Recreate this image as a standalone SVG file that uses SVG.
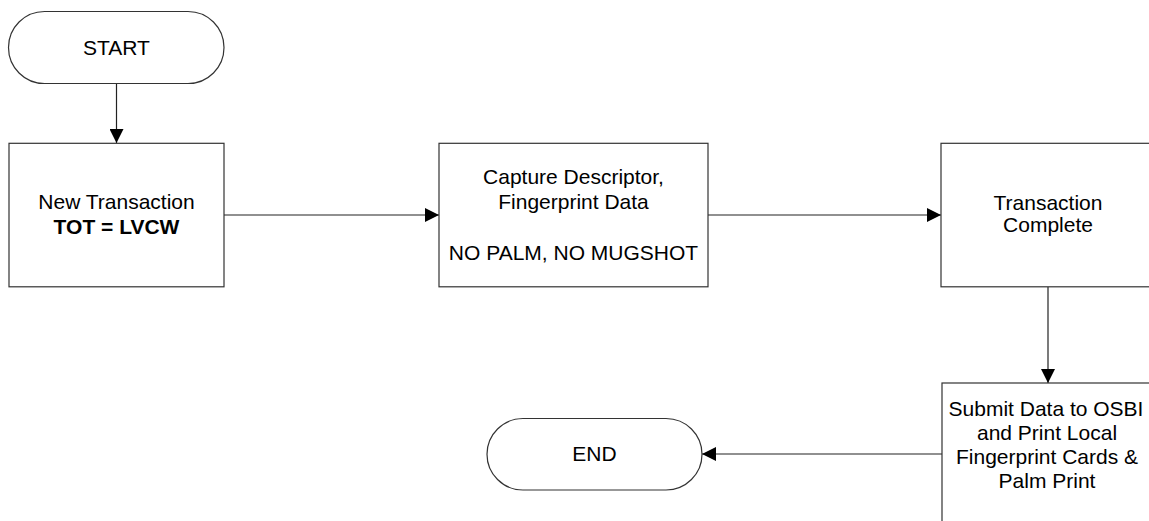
<svg xmlns="http://www.w3.org/2000/svg" width="1149" height="521" viewBox="0 0 1149 521">
<style>
.shape{fill:#fff;stroke:#333;stroke-width:1.2}
.conn{fill:none;stroke:#222;stroke-width:1.2}
text{font-family:"Liberation Sans",Arial,sans-serif;font-size:21px;fill:#000;text-anchor:middle}
.b{font-weight:bold}
</style>
<defs>
<marker id="arr" viewBox="0 0 14 14" refX="14" refY="7" markerWidth="14" markerHeight="14" markerUnits="userSpaceOnUse" orient="auto">
<path d="M0,0 L14,7 L0,14 Z" fill="#000"/>
</marker>
</defs>
<rect width="1149" height="521" fill="#fff"/>
<g id="connectors">
<line class="conn" x1="116.5" y1="83.5" x2="116.5" y2="143" marker-end="url(#arr)"/>
<line class="conn" x1="224" y1="215" x2="439" y2="215" marker-end="url(#arr)"/>
<line class="conn" x1="708" y1="215" x2="941" y2="215" marker-end="url(#arr)"/>
<line class="conn" x1="1048" y1="287" x2="1048" y2="383" marker-end="url(#arr)"/>
<line class="conn" x1="942" y1="454" x2="702" y2="454" marker-end="url(#arr)"/>
</g>
<g id="start">
<rect class="shape" x="8.5" y="11.5" width="215.5" height="72" rx="36" ry="36"/>
<text x="116.5" y="54.5">START</text>
</g>
<g id="new-transaction">
<rect class="shape" x="9" y="143.3" width="215" height="143.5"/>
<text x="116.5" y="209.3">New Transaction</text>
<text class="b" x="116.5" y="234">TOT = LVCW</text>
</g>
<g id="capture">
<rect class="shape" x="439" y="143.3" width="269" height="143.5"/>
<text x="573.5" y="183.5">Capture Descriptor,</text>
<text x="573.5" y="209">Fingerprint Data</text>
<text x="573.5" y="259.5">NO PALM, NO MUGSHOT</text>
</g>
<g id="complete">
<rect class="shape" x="941" y="143.3" width="214" height="143.5"/>
<text x="1048" y="209.5">Transaction</text>
<text x="1048" y="232">Complete</text>
</g>
<g id="submit">
<rect class="shape" x="942" y="383" width="213" height="150"/>
<text x="1046" y="416">Submit Data to OSBI</text>
<text x="1047" y="440">and Print Local</text>
<text x="1047" y="464">Fingerprint Cards &amp;</text>
<text x="1047" y="488">Palm Print</text>
</g>
<g id="end">
<rect class="shape" x="487" y="418.5" width="215" height="71.5" rx="36" ry="36"/>
<text x="594.5" y="461">END</text>
</g>
</svg>
